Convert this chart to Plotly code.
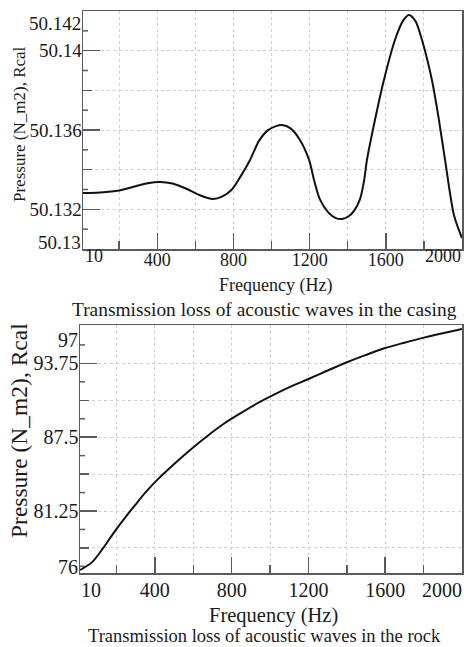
import plotly.graph_objects as go

W, H = 464, 647

# ---------------- data ----------------
casing_freq = [10, 100, 200, 300, 350, 414, 480, 550, 620, 692, 740, 792, 840, 887, 934,
               980, 1020, 1055, 1100, 1149, 1197, 1223, 1254, 1300, 1335, 1370, 1405,
               1435, 1464, 1485, 1501, 1543, 1590, 1648, 1690, 1721, 1755, 1790, 1842,
               1879, 1911, 1958, 2000]
casing_pressure = [50.13282, 50.13285, 50.13295, 50.13320, 50.13332, 50.13338, 50.13330,
                   50.13305, 50.13272, 50.13252, 50.13264, 50.13300, 50.13370, 50.13449,
                   50.13545, 50.13598, 50.13618, 50.13625, 50.13608, 50.13550, 50.13449,
                   50.13348, 50.13250, 50.13182, 50.13157, 50.13151, 50.13165, 50.13195,
                   50.13250, 50.13340, 50.13449, 50.13650, 50.13852, 50.14054, 50.14150,
                   50.14180, 50.14150, 50.14054, 50.13852, 50.13650, 50.13449, 50.13170,
                   50.13055]

rock_freq = [10, 72, 130, 192, 250, 297, 350, 416, 505, 593, 677, 765, 854, 937, 1026,
             1110, 1203, 1300, 1401, 1500, 1599, 1700, 1802, 1900, 2000]
rock_pressure = [76.25, 76.90, 78.10, 79.55, 80.80, 81.75, 82.80, 83.95, 85.30, 86.55,
                 87.65, 88.70, 89.60, 90.40, 91.15, 91.80, 92.45, 93.15, 93.85, 94.47,
                 95.05, 95.50, 95.93, 96.30, 96.66]

freq_tick_vals = [10, 400, 800, 1200, 1600, 2000]
freq_tick_text = ["10", "400", "800", "1200", "1600", "2000"]
freq_minor_vals = [200, 600, 1000, 1400, 1800]

casing_tick_vals = [50.13, 50.132, 50.136, 50.14, 50.142]
casing_tick_text = ["50.13", "50.132", "50.136", "50.14", "50.142"]
casing_grid_vals = [50.134, 50.138]
casing_short_vals = [50.131, 50.133, 50.135, 50.137, 50.139, 50.141]

rock_tick_vals = [76, 81.25, 87.5, 93.75, 97]
rock_tick_text = ["76", "81.25", "87.5", "93.75", "97"]
rock_grid_vals = [78.125, 84.375, 90.625]
rock_short_vals = [76.5625, 79.6875, 82.8125, 85.9375, 89.0625, 92.1875, 95.3125]

x_title = "Frequency (Hz)"
y_title = "Pressure (N_m2), Rcal"
caption_top = "Transmission loss of acoustic waves in the casing"
caption_bottom = "Transmission loss of acoustic waves in the rock"

# ---------------- style ----------------
FONT = "Liberation Serif"
TXT = "#1a1a1a"
AX = "#5a5a5a"
GRID = "#cfcfcf"


def px(x):
    return x / W


def py(y):
    return 1 - y / H


dom_x1 = [px(83), px(462)]
dom_y1 = [py(249), py(11)]
dom_x2 = [px(80), px(462)]
dom_y2 = [py(573), py(325)]


def xaxis_cfg(domain, anchor, fs, standoff):
    return dict(
        domain=domain, anchor=anchor, range=[freq_tick_vals[0], freq_tick_vals[-1]],
        tickmode="array", tickvals=freq_tick_vals[1:-1], ticktext=freq_tick_text[1:-1],
        ticks="inside", ticklen=16, tickwidth=1.5, tickcolor=AX,
        showline=True, linecolor=AX, linewidth=1.5, mirror=True,
        showgrid=True, gridcolor=GRID, griddash="dot", gridwidth=1, zeroline=False,
        tickfont=dict(family=FONT, size=fs, color=TXT), ticklabelstandoff=standoff,
        minor=dict(tickmode="array", tickvals=freq_minor_vals, ticks="inside", ticklen=8,
                   tickwidth=1.5, tickcolor=AX, showgrid=True, gridcolor=GRID,
                   griddash="dot", gridwidth=1),
        automargin=False, fixedrange=True,
    )


def yaxis_cfg(domain, anchor, rng, vals, texts, grid_vals, fs, standoff):
    return dict(
        domain=domain, anchor=anchor, range=rng,
        tickmode="array", tickvals=vals[1:-1], ticktext=texts[1:-1],
        ticks="inside", ticklen=17, tickwidth=1.5, tickcolor=AX,
        showline=True, linecolor=AX, linewidth=1.5, mirror=True,
        showgrid=True, gridcolor=GRID, griddash="dot", gridwidth=1, zeroline=False,
        tickfont=dict(family=FONT, size=fs, color=TXT), ticklabelstandoff=standoff,
        minor=dict(tickmode="array", tickvals=grid_vals, ticks="inside", ticklen=9,
                   tickwidth=1.5, tickcolor=AX, showgrid=True, gridcolor=GRID,
                   griddash="dot", gridwidth=1),
        automargin=False, fixedrange=True,
    )


fig = go.Figure()
fig.add_trace(go.Scatter(x=casing_freq, y=casing_pressure, mode="lines",
                         line=dict(color="#111111", width=2, shape="spline", smoothing=0.8),
                         xaxis="x", yaxis="y", showlegend=False, hoverinfo="skip"))
fig.add_trace(go.Scatter(x=rock_freq, y=rock_pressure, mode="lines",
                         line=dict(color="#111111", width=2, shape="spline", smoothing=0.8),
                         xaxis="x2", yaxis="y2", showlegend=False, hoverinfo="skip"))

fig.update_layout(
    width=W, height=H, margin=dict(l=0, r=0, t=0, b=0),
    paper_bgcolor="white", plot_bgcolor="white", showlegend=False,
    xaxis=xaxis_cfg(dom_x1, "y", 18, -6),
    yaxis=yaxis_cfg(dom_y1, "x", [casing_tick_vals[0], casing_tick_vals[-1]],
                    casing_tick_vals, casing_tick_text, casing_grid_vals, 19, -4),
    xaxis2=xaxis_cfg(dom_x2, "y2", 20, -2),
    yaxis2=yaxis_cfg(dom_y2, "x2", [rock_tick_vals[0], rock_tick_vals[-1]],
                     rock_tick_vals, rock_tick_text, rock_grid_vals, 20, -4),
)

# short (third-level) ticks on the y axes
shapes = []
w1 = (dom_x1[1] - dom_x1[0]) * W
w2 = (dom_x2[1] - dom_x2[0]) * W
for v in casing_short_vals:
    shapes.append(dict(type="line", xref="x domain", yref="y", x0=0, x1=5 / w1, y0=v, y1=v,
                       line=dict(color=AX, width=1.5)))
for v in rock_short_vals:
    shapes.append(dict(type="line", xref="x2 domain", yref="y2", x0=0, x1=5 / w2, y0=v, y1=v,
                       line=dict(color=AX, width=1.5)))
fig.update_layout(shapes=shapes)

ann = []


def text(t, x, y, fs, xanchor="center", angle=0):
    ann.append(dict(text=t, xref="paper", yref="paper", x=px(x), y=py(y), xanchor=xanchor,
                    yanchor="middle", showarrow=False, textangle=angle, borderpad=0,
                    font=dict(family=FONT, size=fs, color=TXT)))


# end tick labels (nudged inward like the original)
text(casing_tick_text[-1], 82, 24, 19, "right")
text(casing_tick_text[0], 82, 243, 19, "right")
text(freq_tick_text[0], 84, 256, 18, "left")
text(freq_tick_text[-1], 462, 256, 18, "right")

text(rock_tick_text[-1], 79, 340, 20, "right")
text(rock_tick_text[0], 79, 567, 20, "right")
text(freq_tick_text[0], 80, 590, 20, "left")
text(freq_tick_text[-1], 463, 590, 20, "right")

# titles
text(y_title, 20, 124, 17, angle=-90)
text(x_title, 275, 286, 18)
text(caption_top, 264, 309, 19.4)

text(y_title, 19, 431, 23.5, angle=-90)
text(x_title, 273, 615, 20.5)
text(caption_bottom, 264, 636, 18.5)

fig.update_layout(annotations=ann)

fig.write_html("out.html",
               config={"displayModeBar": False, "staticPlot": True},
               post_script="document.body.style.margin='0';document.body.style.overflow='hidden';")
